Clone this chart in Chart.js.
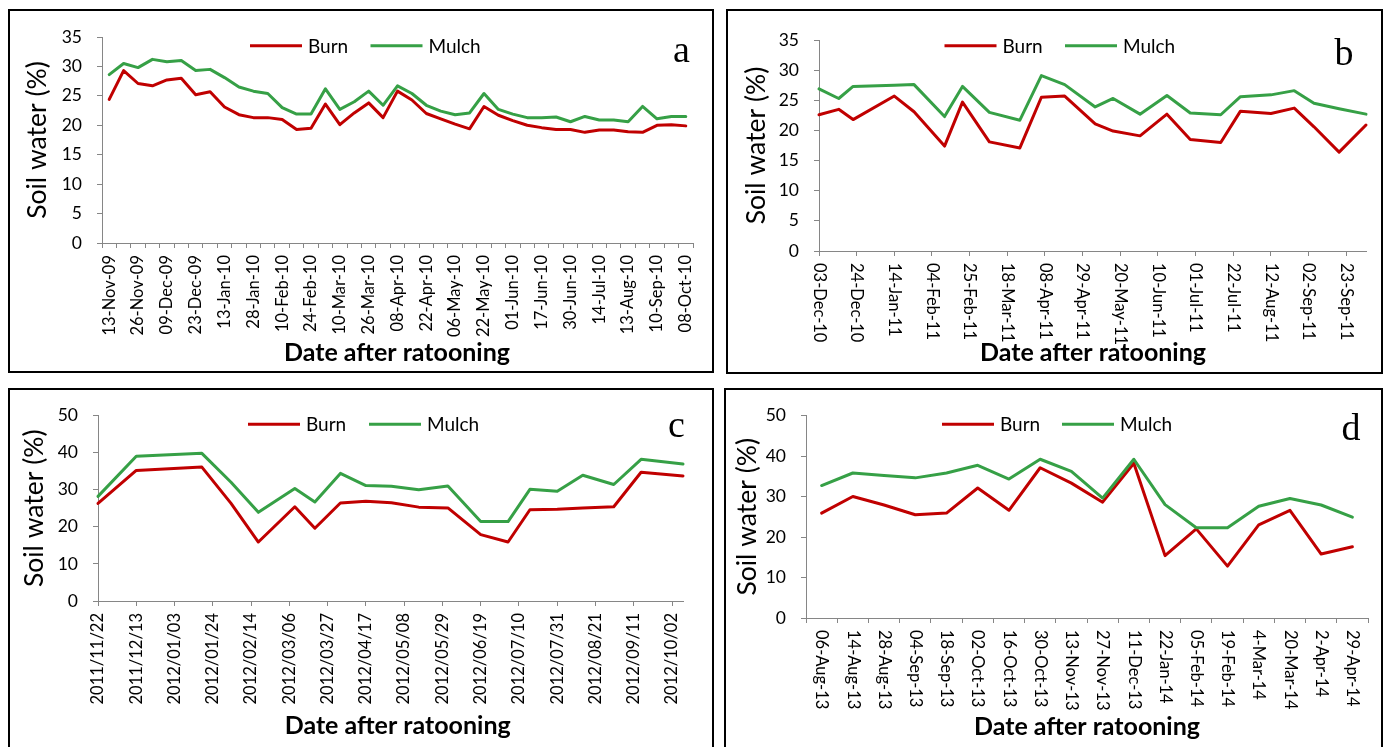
<!DOCTYPE html>
<html>
<head>
<meta charset="utf-8">
<title>Soil water after ratooning</title>
<script src="https://cdn.jsdelivr.net/npm/chart.js@4.4.1/dist/chart.umd.min.js"></script>
<style>
  html, body { margin: 0; padding: 0; background: #fff; }
  body { width: 1391px; height: 747px; position: relative; overflow: hidden; }
  .panel { position: absolute; border: 2px solid #000; box-sizing: border-box; background: #fff; }
  .panel canvas { position: absolute; left: 0; top: 0; }
</style>
</head>
<body>
<div class="panel" style="left:8px; top:9px; width:706px; height:364px;"><canvas id="chartA" width="702" height="360"></canvas></div>
<div class="panel" style="left:726px; top:9px; width:657px; height:365px;"><canvas id="chartB" width="653" height="361"></canvas></div>
<div class="panel" style="left:8px; top:388px; width:706px; height:362px;"><canvas id="chartC" width="702" height="358"></canvas></div>
<div class="panel" style="left:724px; top:388px; width:659px; height:362px;"><canvas id="chartD" width="655" height="358"></canvas></div>

<script>
// ---------- data ----------
const seriesNames = ['Burn', 'Mulch'];

// (a) 2009-2010: sampling dates as category labels (only every other date is printed)
const categoriesA = ['13-Nov-09', '', '26-Nov-09', '', '09-Dec-09', '', '23-Dec-09', '', '13-Jan-10', '',
  '28-Jan-10', '', '10-Feb-10', '', '24-Feb-10', '', '10-Mar-10', '', '26-Mar-10', '',
  '08-Apr-10', '', '22-Apr-10', '', '06-May-10', '', '22-May-10', '', '01-Jun-10', '',
  '17-Jun-10', '', '30-Jun-10', '', '14-Jul-10', '', '13-Aug-10', '', '10-Sep-10', '', '08-Oct-10'];
const burnA = [24.4, 29.3, 27.1, 26.7, 27.7, 28.0, 25.2, 25.7, 23.1, 21.8,
  21.3, 21.3, 21.0, 19.3, 19.5, 23.6, 20.1, 22.1, 23.8, 21.3,
  25.8, 24.3, 22.0, 21.1, 20.2, 19.4, 23.2, 21.7, 20.8, 20.0,
  19.6, 19.3, 19.3, 18.8, 19.2, 19.2, 18.9, 18.8, 20.0, 20.1, 19.9];
const mulchA = [28.6, 30.5, 29.8, 31.2, 30.8, 31.0, 29.3, 29.5, 28.1, 26.5,
  25.8, 25.4, 23.0, 21.9, 21.9, 26.2, 22.7, 24.0, 25.8, 23.4,
  26.7, 25.4, 23.4, 22.4, 21.8, 22.1, 25.4, 22.7, 21.9, 21.3,
  21.3, 21.4, 20.6, 21.5, 20.9, 20.9, 20.6, 23.2, 21.1, 21.5, 21.5];

// (b) 2010-2011: date axis
const datesB = ['2010-12-03', '2010-12-14', '2010-12-22', '2011-01-14', '2011-01-25', '2011-02-11',
  '2011-02-21', '2011-03-08', '2011-03-25', '2011-04-06', '2011-04-19', '2011-05-06',
  '2011-05-16', '2011-05-31', '2011-06-15', '2011-06-28', '2011-07-15', '2011-07-26',
  '2011-08-12', '2011-08-25', '2011-09-05', '2011-09-19', '2011-10-04'];
const burnB = [22.6, 23.5, 21.8, 25.7, 23.1, 17.4, 24.7, 18.1, 17.1, 25.5, 25.7, 21.1,
  19.9, 19.1, 22.7, 18.5, 18.0, 23.2, 22.8, 23.7, 20.6, 16.4, 20.9];
const mulchB = [26.9, 25.3, 27.3, 27.5, 27.6, 22.3, 27.3, 23.0, 21.7, 29.1, 27.6, 23.9,
  25.3, 22.7, 25.8, 22.9, 22.6, 25.6, 25.9, 26.6, 24.5, 23.6, 22.7];
const tickLabelsB = ['03-Dec-10', '24-Dec-10', '14-Jan-11', '04-Feb-11', '25-Feb-11', '18-Mar-11',
  '08-Apr-11', '29-Apr-11', '20-May-11', '10-Jun-11', '01-Jul-11', '22-Jul-11',
  '12-Aug-11', '02-Sep-11', '23-Sep-11'];

// (c) 2011-2012: date axis
const datesC = ['2011-11-22', '2011-12-13', '2012-01-18', '2012-02-03', '2012-02-18', '2012-03-09',
  '2012-03-20', '2012-04-03', '2012-04-17', '2012-05-01', '2012-05-16', '2012-06-01',
  '2012-06-19', '2012-07-04', '2012-07-16', '2012-07-31', '2012-08-14', '2012-08-31',
  '2012-09-15', '2012-10-08'];
const burnC = [26.3, 35.2, 36.1, 26.3, 15.9, 25.4, 19.6, 26.4, 26.9, 26.5, 25.3, 25.1,
  17.9, 15.9, 24.6, 24.7, 25.1, 25.4, 34.7, 33.7];
const mulchC = [28.2, 39.0, 39.8, 32.0, 23.9, 30.3, 26.7, 34.4, 31.1, 30.9, 30.0, 31.0,
  21.4, 21.4, 30.1, 29.6, 33.9, 31.4, 38.2, 36.9];
const tickLabelsC = ['2011/11/22', '2011/12/13', '2012/01/03', '2012/01/24', '2012/02/14', '2012/03/06',
  '2012/03/27', '2012/04/17', '2012/05/08', '2012/05/29', '2012/06/19', '2012/07/10',
  '2012/07/31', '2012/08/21', '2012/09/11', '2012/10/02'];

// (d) 2013-2014: sampling dates as categories
const categoriesD = ['06-Aug-13', '14-Aug-13', '28-Aug-13', '04-Sep-13', '18-Sep-13', '02-Oct-13',
  '16-Oct-13', '30-Oct-13', '13-Nov-13', '27-Nov-13', '11-Dec-13', '22-Jan-14',
  '05-Feb-14', '19-Feb-14', '4-Mar-14', '20-Mar-14', '2-Apr-14', '29-Apr-14'];
const burnD = [25.9, 30.0, 27.9, 25.5, 25.9, 32.1, 26.6, 37.1, 33.3, 28.6, 38.2, 15.4,
  22.0, 12.8, 23.0, 26.6, 15.8, 17.6];
const mulchD = [32.7, 35.8, 35.2, 34.6, 35.8, 37.7, 34.3, 39.2, 36.2, 29.6, 39.2, 28.0,
  22.3, 22.3, 27.6, 29.5, 27.9, 24.9];

// ---------- styling ----------
const SANS = 'Lato, "Open Sans", "Liberation Sans", sans-serif';
const SERIF = '"Liberation Serif", "DejaVu Serif", serif';
const RED = '#C00000';
const GREEN = '#36A046';
const AXIS = '#868686';
const MONTHS = ['Jan', 'Feb', 'Mar', 'Apr', 'May', 'Jun', 'Jul', 'Aug', 'Sep', 'Oct', 'Nov', 'Dec'];

// day number from 'YYYY-MM-DD', 'YYYY/MM/DD' or 'DD-Mon-YY'
function dayNumber(s) {
  let y, m, d;
  if (/^\d{4}[-\/]/.test(s)) {
    [y, m, d] = s.split(/[-\/]/).map(Number);
  } else {
    const p = s.split('-');
    d = Number(p[0]); m = MONTHS.indexOf(p[1]) + 1; y = 2000 + Number(p[2]);
  }
  return Date.UTC(y, m - 1, d) / 86400000;
}

// draws axis labels, titles, legend and panel letter
const decorPlugin = {
  id: 'decor',
  afterDraw(chart, args, o) {
    const ctx = chart.ctx;
    const area = chart.chartArea;
    const xs = chart.scales.x;
    ctx.save();
    ctx.fillStyle = '#000';

    // x tick labels, rotated
    ctx.font = o.tickFont;
    ctx.textBaseline = 'middle';
    o.xLabels.forEach(item => {
      if (!item.text) return;
      const px = xs.getPixelForValue(item.value);
      ctx.save();
      ctx.translate(px, area.bottom + o.labelGap);
      if (o.labelDir === 'up') { ctx.rotate(-Math.PI / 2); ctx.textAlign = 'right'; }
      else { ctx.rotate(Math.PI / 2); ctx.textAlign = 'left'; }
      ctx.fillText(item.text, 0, 0);
      ctx.restore();
    });

    // y-axis title
    ctx.save();
    ctx.font = o.yTitleFont;
    ctx.textAlign = 'center';
    ctx.textBaseline = 'middle';
    ctx.translate(o.yTitleX, (area.top + area.bottom) / 2);
    ctx.rotate(-Math.PI / 2);
    ctx.fillText(o.yTitle, 0, 0);
    ctx.restore();

    // x-axis title
    ctx.font = o.xTitleFont;
    ctx.textAlign = 'center';
    ctx.textBaseline = 'alphabetic';
    ctx.fillText(o.xTitle, o.xTitleX, o.xTitleY);

    // legend
    const lg = o.legend;
    ctx.font = lg.font;
    ctx.textAlign = 'left';
    ctx.textBaseline = 'middle';
    lg.items.forEach(it => {
      ctx.strokeStyle = it.color;
      ctx.lineWidth = 3;
      ctx.lineCap = 'butt';
      ctx.beginPath();
      ctx.moveTo(it.x, lg.y);
      ctx.lineTo(it.x + lg.lineLen, lg.y);
      ctx.stroke();
      ctx.fillText(it.text, it.x + lg.lineLen + lg.gap, lg.y + 1);
    });

    // panel letter
    ctx.font = o.letterFont;
    ctx.textAlign = 'center';
    ctx.textBaseline = 'alphabetic';
    ctx.fillText(o.letter.text, o.letter.x, o.letter.y);
    ctx.restore();
  }
};

function buildPanel(p) {
  const canvas = document.getElementById(p.canvas);
  const W = canvas.width, H = canvas.height;
  const gridCommon = { display: true, drawOnChartArea: false, drawTicks: true, tickLength: 5, color: AXIS, lineWidth: 1 };
  let data, xScale, xLabels;

  if (p.dates) {
    const d0 = dayNumber(p.tickLabels[0]);
    const xv = p.dates.map(s => dayNumber(s) - d0);
    const tickVals = p.tickLabels.map(s => dayNumber(s) - d0);
    data = {
      datasets: [
        { label: seriesNames[0], data: p.burn.map((v, i) => ({ x: xv[i], y: v })) },
        { label: seriesNames[1], data: p.mulch.map((v, i) => ({ x: xv[i], y: v })) }
      ]
    };
    xScale = {
      type: 'linear', min: 0, max: xv[xv.length - 1],
      afterBuildTicks: s => { s.ticks = tickVals.map(v => ({ value: v })); },
      grid: { ...gridCommon, offset: false }
    };
    xLabels = p.tickLabels.map((t, i) => ({ value: tickVals[i], text: t }));
  } else {
    data = {
      labels: p.categories,
      datasets: [
        { label: seriesNames[0], data: p.burn },
        { label: seriesNames[1], data: p.mulch }
      ]
    };
    xScale = { type: 'category', offset: true, grid: { ...gridCommon, offset: true } };
    xLabels = p.categories.map((t, i) => ({ value: i, text: t }));
  }
  Object.assign(xScale, {
    ticks: { display: false },
    border: { display: true, color: AXIS, width: 1 },
    afterFit: s => { s.height = H - p.area.bottom; }
  });

  const colors = [RED, GREEN];
  data.datasets.forEach((ds, i) => Object.assign(ds, {
    borderColor: colors[i], backgroundColor: colors[i], borderWidth: 3,
    pointRadius: 0, tension: 0, fill: false, clip: false,
    borderJoinStyle: 'round', borderCapStyle: 'round', order: 1 - i
  }));

  return new Chart(canvas, {
    type: 'line',
    data,
    options: {
      responsive: false, animation: false, devicePixelRatio: 1, events: [],
      layout: { padding: { top: p.area.top, right: W - p.area.right, left: 0, bottom: 0 } },
      scales: {
        x: xScale,
        y: {
          type: 'linear', min: 0, max: p.yMax,
          ticks: { stepSize: p.yStep, color: '#000', padding: 15, font: { family: SANS, size: 17.5 } },
          grid: gridCommon,
          border: { display: true, color: AXIS, width: 1 },
          afterFit: s => { s.width = p.area.left; }
        }
      },
      plugins: {
        legend: { display: false },
        tooltip: { enabled: false },
        decor: {
          xLabels, labelDir: p.labelDir, labelGap: 12,
          tickFont: `16.5px ${SANS}`,
          yTitle: 'Soil water (%)', yTitleFont: `26.5px ${SANS}`, yTitleX: p.yTitleX,
          xTitle: 'Date after ratooning', xTitleFont: `bold 25px ${SANS}`,
          xTitleX: p.xTitle.x, xTitleY: p.xTitle.y,
          legend: {
            font: `19px ${SANS}`, y: p.legend.y, lineLen: 52, gap: 6,
            items: [
              { text: seriesNames[0], color: RED, x: p.legend.burnX },
              { text: seriesNames[1], color: GREEN, x: p.legend.mulchX }
            ]
          },
          letterFont: `38px ${SERIF}`, letter: p.letter
        }
      }
    },
    plugins: [decorPlugin]
  });
}

function drawAll() {
  Chart.defaults.font.family = SANS;
  buildPanel({
    canvas: 'chartA', categories: categoriesA, burn: burnA, mulch: mulchA,
    yMax: 35, yStep: 5, labelDir: 'up',
    area: { left: 92, top: 26, right: 683, bottom: 232 },
    yTitleX: 27, xTitle: { x: 387, y: 350 },
    legend: { y: 34.7, burnX: 240, mulchX: 360.5 },
    letter: { text: 'a', x: 671.5, y: 51 }
  });
  buildPanel({
    canvas: 'chartB', dates: datesB, tickLabels: tickLabelsB, burn: burnB, mulch: mulchB,
    yMax: 35, yStep: 5, labelDir: 'down',
    area: { left: 91, top: 29, right: 638, bottom: 240 },
    yTitleX: 28, xTitle: { x: 365, y: 350 },
    legend: { y: 34.7, burnX: 216.5, mulchX: 337 },
    letter: { text: 'b', x: 616, y: 54 }
  });
  buildPanel({
    canvas: 'chartC', dates: datesC, tickLabels: tickLabelsC, burn: burnC, mulch: mulchC,
    yMax: 50, yStep: 10, labelDir: 'up',
    area: { left: 88, top: 21, right: 673, bottom: 211 },
    yTitleX: 24.5, xTitle: { x: 387.7, y: 344 },
    legend: { y: 34.3, burnX: 238, mulchX: 359 },
    letter: { text: 'c', x: 666.5, y: 47 }
  });
  buildPanel({
    canvas: 'chartD', categories: categoriesD, burn: burnD, mulch: mulchD,
    yMax: 50, yStep: 10, labelDir: 'down',
    area: { left: 80, top: 11, right: 642, bottom: 228 },
    yTitleX: 21, xTitle: { x: 361, y: 345 },
    legend: { y: 34.3, burnX: 216, mulchX: 336 },
    letter: { text: 'd', x: 625, y: 50 }
  });
}

if (document.fonts && document.fonts.load) {
  Promise.all([
    document.fonts.load(`16px ${SANS}`),
    document.fonts.load(`bold 25px ${SANS}`),
    document.fonts.load(`38px ${SERIF}`)
  ]).then(drawAll, drawAll);
} else {
  drawAll();
}
</script>
</body>
</html>
